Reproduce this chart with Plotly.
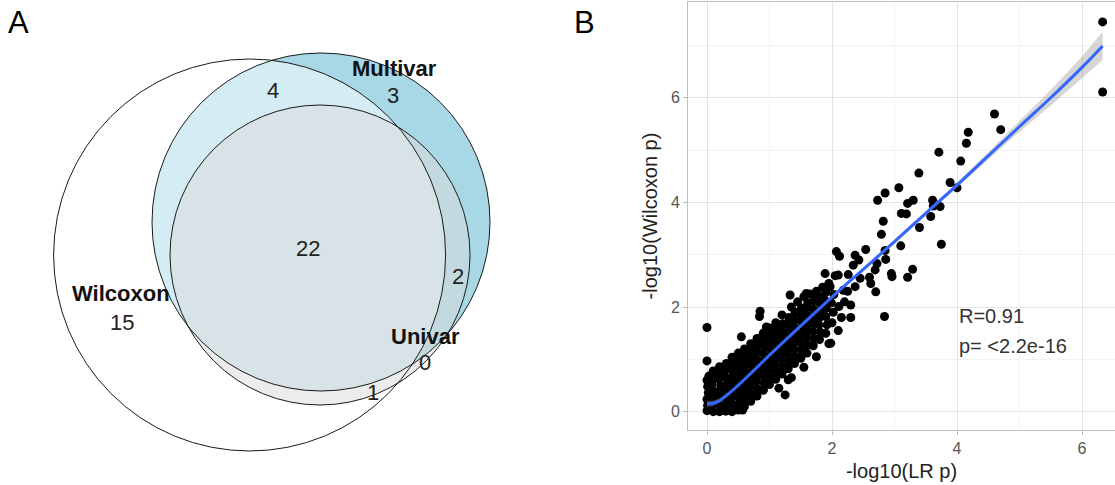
import plotly.graph_objects as go

# ---------------- Panel A: Venn counts ----------------
set_names = ["Wilcoxon", "Multivar", "Univar"]
region_names = ["Wilcoxon only", "Wilcoxon&Multivar", "Multivar only", "All three",
                "Multivar&Univar", "Wilcoxon&Univar", "Univar only"]
region_counts = [15, 4, 3, 22, 2, 1, 0]

# ---------------- Panel B: scatter data ----------------
# dense core
core_x = [0.0, 0.01, 0.0, 0.02, 0.01, 0.0, 0.03,
          0.1, 0.09, 0.11, 0.1, 0.08, 0.12, 0.1,
          0.2, 0.21, 0.19, 0.2, 0.22, 0.19, 0.21, 0.2,
          0.3, 0.31, 0.29, 0.3, 0.32, 0.3, 0.29, 0.31,
          0.4, 0.41, 0.39, 0.4, 0.42, 0.4, 0.39, 0.41, 0.4,
          0.5, 0.51, 0.49, 0.5, 0.52, 0.5, 0.49, 0.51, 0.5,
          0.6, 0.61, 0.59, 0.6, 0.62, 0.6, 0.59, 0.61, 0.6,
          0.7, 0.71, 0.69, 0.7, 0.72, 0.7, 0.69, 0.71, 0.7,
          0.8, 0.81, 0.79, 0.8, 0.82, 0.8, 0.79, 0.81, 0.8,
          0.9, 0.91, 0.89, 0.9, 0.92, 0.9, 0.89, 0.91, 0.9,
          1.0, 1.01, 0.99, 1.0, 1.02, 1.0, 0.99, 1.01, 1.0,
          1.1, 1.11, 1.09, 1.1, 1.12, 1.1, 1.09, 1.11, 1.1,
          1.2, 1.21, 1.19, 1.2, 1.22, 1.2, 1.19, 1.21,
          1.3, 1.31, 1.29, 1.3, 1.32, 1.3, 1.29, 1.31,
          1.4, 1.41, 1.39, 1.4, 1.42, 1.4, 1.39, 1.41,
          1.5, 1.51, 1.49, 1.5, 1.52, 1.5, 1.49, 1.51,
          1.6, 1.61, 1.59, 1.6, 1.62, 1.6, 1.59, 1.61,
          1.7, 1.71, 1.69, 1.7, 1.72, 1.7, 1.71,
          1.8, 1.81, 1.79, 1.8, 1.82, 1.8, 1.79,
          1.9, 1.92, 1.9, 1.91, 1.88, 1.9,
          2.0, 2.02, 1.99, 2.03]
core_y = [0.02, 0.12, 0.24, 0.36, 0.48, 0.6, 0.68,
          0.0, 0.13, 0.26, 0.4, 0.53, 0.66, 0.78,
          0.0, 0.12, 0.25, 0.38, 0.5, 0.63, 0.76, 0.86,
          0.01, 0.14, 0.27, 0.4, 0.53, 0.66, 0.79, 0.92,
          0.0, 0.13, 0.26, 0.4, 0.53, 0.66, 0.8, 0.93, 1.04,
          0.03, 0.16, 0.3, 0.44, 0.58, 0.72, 0.86, 1.0, 1.12,
          0.1, 0.24, 0.38, 0.52, 0.66, 0.8, 0.94, 1.08, 1.2,
          0.2, 0.34, 0.48, 0.62, 0.76, 0.9, 1.04, 1.18, 1.3,
          0.3, 0.44, 0.58, 0.72, 0.86, 1.0, 1.14, 1.28, 1.4,
          0.42, 0.56, 0.7, 0.84, 0.98, 1.12, 1.26, 1.4, 1.5,
          0.52, 0.66, 0.8, 0.94, 1.08, 1.22, 1.36, 1.5, 1.6,
          0.62, 0.76, 0.9, 1.04, 1.18, 1.32, 1.46, 1.6, 1.7,
          0.72, 0.86, 1.0, 1.14, 1.28, 1.42, 1.56, 1.68,
          0.82, 0.96, 1.1, 1.24, 1.38, 1.52, 1.66, 1.8,
          0.92, 1.06, 1.2, 1.34, 1.48, 1.62, 1.76, 1.9,
          1.04, 1.18, 1.32, 1.46, 1.6, 1.74, 1.88, 1.98,
          1.12, 1.28, 1.42, 1.56, 1.7, 1.84, 1.98, 2.08,
          1.26, 1.4, 1.54, 1.68, 1.82, 1.96, 2.12,
          1.38, 1.52, 1.66, 1.8, 1.94, 2.08, 2.2,
          1.5, 1.66, 1.82, 1.98, 2.14, 2.28,
          1.7, 1.9, 2.08, 2.24]

# scattered points
sparse_x = [6.33, 6.33, 4.6, 4.7, 4.18, 4.15, 3.71, 4.06, 3.39, 3.89, 4.0, 3.07, 2.85,
            2.73, 3.3, 3.21, 3.61, 3.62, 3.73, 3.11, 3.19, 3.58, 2.82, 3.4, 2.79, 3.75,
            3.1, 2.07, 2.12, 2.54, 2.37, 2.43, 2.85, 2.86, 2.72, 2.34, 3.29, 2.69, 2.95,
            2.96, 3.21, 1.89, 2.1, 2.26, 2.45, 2.6, 2.62, 2.37, 2.7, 1.97, 2.18, 1.59,
            1.33, 1.75, 2.11, 2.3, 2.3, 2.84, 1.98, 1.3, 1.25, 1.5, 0.85, 0.84, 0.55,
            0.0, 0.0, 0.57, 0.9, 0.74,
            1.2, 1.35, 1.45, 1.65, 1.55, 0.95, 1.75, 1.85, 1.95, 2.05, 1.15, 1.35,
            1.55, 1.75, 1.95, 2.1, 2.15, 2.2, 2.25]
sparse_y = [7.45, 6.11, 5.69, 5.39, 5.34, 5.13, 4.96, 4.79, 4.56, 4.38, 4.28, 4.28, 4.18,
            4.04, 4.04, 3.98, 4.04, 3.93, 3.92, 3.79, 3.78, 3.73, 3.64, 3.52, 3.39, 3.2,
            3.17, 3.06, 2.97, 3.1, 2.99, 2.9, 3.08, 2.91, 2.83, 2.8, 2.72, 2.71, 2.64,
            2.58, 2.57, 2.64, 2.61, 2.62, 2.55, 2.57, 2.45, 2.39, 2.29, 2.39, 2.32, 2.26,
            2.23, 2.17, 2.01, 2.04, 1.8, 1.82, 1.31, 0.61, 0.32, 1.02, 1.92, 1.82, 1.43,
            1.61, 0.97, 0.03, 0.41, 0.64,
            1.85, 2.0, 2.1, 2.25, 2.2, 1.62, 2.3, 2.38, 2.45, 2.6, 0.45, 0.65,
            0.85, 1.05, 1.3, 1.55, 1.8, 2.1, 2.3]

# loess fit and confidence band
fit_x = [0, 0.1, 0.2, 0.3, 0.4, 0.55, 0.75, 1.0, 1.5, 2.0, 2.5, 3.0, 3.5, 4.0, 4.5, 5.0, 5.5, 6.0, 6.33]
fit_y = [0.15, 0.16, 0.21, 0.3, 0.4, 0.56, 0.79, 1.08, 1.64, 2.19, 2.72, 3.25, 3.79, 4.33, 4.89, 5.45, 6.0, 6.58, 6.99]
fit_lo = [0.09, 0.11, 0.17, 0.26, 0.37, 0.53, 0.76, 1.05, 1.61, 2.16, 2.69, 3.21, 3.75, 4.28, 4.82, 5.35, 5.85, 6.37, 6.72]
fit_hi = [0.21, 0.21, 0.25, 0.34, 0.43, 0.59, 0.82, 1.11, 1.67, 2.22, 2.75, 3.29, 3.83, 4.38, 4.96, 5.55, 6.15, 6.79, 7.26]

stat_lines = ["R=0.91", "p= <2.2e-16"]

FONT = "Liberation Sans, Arial, Helvetica, sans-serif"
W, H = 1115, 485

fig = go.Figure()

# ---- Panel B traces ----
fig.add_trace(go.Scatter(x=core_x + sparse_x, y=core_y + sparse_y, mode="markers",
                         marker=dict(color="black", size=9, line=dict(width=0)),
                         xaxis="x2", yaxis="y2", showlegend=False, hoverinfo="x+y"))
fig.add_trace(go.Scatter(x=fit_x, y=fit_lo, mode="lines", line=dict(width=0),
                         xaxis="x2", yaxis="y2", showlegend=False, hoverinfo="skip"))
fig.add_trace(go.Scatter(x=fit_x, y=fit_hi, mode="lines", line=dict(width=0),
                         fill="tonexty", fillcolor="rgba(153,153,153,0.4)",
                         xaxis="x2", yaxis="y2", showlegend=False, hoverinfo="skip"))
fig.add_trace(go.Scatter(x=fit_x, y=fit_y, mode="lines", line=dict(color="#3366FF", width=3),
                         line_shape="spline",
                         xaxis="x2", yaxis="y2", showlegend=False))

# ---- Panel A: circles (pixel geometry) ----
circles = {  # name: (cx, cy, r)
    "Multivar": (321, 222, 169),
    "Wilcoxon": (249.6, 255, 196),
    "Univar": (320, 255, 150),
}
fills = {
    "Multivar": "rgba(168,216,230,1)",
    "Wilcoxon": "rgba(255,255,255,0.5)",
    "Univar": "rgba(218,218,218,0.52)",
}
for name in ["Multivar", "Wilcoxon", "Univar"]:
    cx, cy, r = circles[name]
    fig.add_shape(type="circle", xref="x", yref="y", x0=cx - r, x1=cx + r, y0=cy - r, y1=cy + r,
                  fillcolor=fills[name], line=dict(width=0), layer="above")
for name in ["Multivar", "Wilcoxon", "Univar"]:
    cx, cy, r = circles[name]
    fig.add_shape(type="circle", xref="x", yref="y", x0=cx - r, x1=cx + r, y0=cy - r, y1=cy + r,
                  fillcolor="rgba(0,0,0,0)", line=dict(color="#1a1a1a", width=1), layer="above")

region_pos = [(122, 322), (273, 90), (393, 95), (308, 248), (458, 276), (373, 392), (425, 362)]
for cnt, (px, py) in zip(region_counts, region_pos):
    fig.add_annotation(x=px, y=py, xref="x", yref="y", text=str(cnt), showarrow=False,
                       font=dict(family=FONT, size=22, color="#222"))
set_pos = {"Wilcoxon": (121, 293), "Multivar": (394, 68), "Univar": (425, 336)}
for name in set_names:
    px, py = set_pos[name]
    fig.add_annotation(x=px, y=py, xref="x", yref="y", text="<b>" + name + "</b>", showarrow=False,
                       font=dict(family=FONT, size=22, color="#111"))

# panel letters
fig.add_annotation(x=6, y=3, xref="x", yref="y", text="A", showarrow=False,
                   xanchor="left", yanchor="top", font=dict(family=FONT, size=31, color="black"))
fig.add_annotation(x=572 / W, y=1 - 3 / H, xref="paper", yref="paper", text="B", showarrow=False,
                   xanchor="left", yanchor="top", font=dict(family=FONT, size=31, color="black"))

# stats text
fig.add_annotation(x=4.0, y=1.83, xref="x2", yref="y2", text=stat_lines[0], showarrow=False,
                   xanchor="left", font=dict(family=FONT, size=20, color="#333"))
fig.add_annotation(x=4.0, y=1.25, xref="x2", yref="y2", text=stat_lines[1], showarrow=False,
                   xanchor="left", font=dict(family=FONT, size=20, color="#333"))

axis_common = dict(showgrid=True, gridcolor="#e3e3e3", gridwidth=1, zeroline=False,
                   showline=True, linecolor="#bdbdbd", linewidth=1,
                   ticks="outside", ticklen=4, tickcolor="#bdbdbd",
                   tickfont=dict(family=FONT, size=16, color="#555"),
                   minor=dict(dtick=1, showgrid=True, gridcolor="#f3f3f3", gridwidth=1),
                   automargin=False, dtick=2, tick0=0)

fig.update_layout(
    width=W, height=H, margin=dict(l=0, r=0, t=0, b=0),
    paper_bgcolor="white", plot_bgcolor="white",
    showlegend=False,
    xaxis=dict(domain=[0, 560 / W], range=[0, 560], visible=False, fixedrange=True),
    yaxis=dict(domain=[0, 1], range=[H, 0], visible=False, fixedrange=True),
    xaxis2=dict(axis_common, domain=[688 / W, 1.0], range=[-0.304, 6.528], anchor="y2",
                mirror=True,
                title=dict(text="-log10(LR p)", font=dict(family=FONT, size=20, color="#222"),
                           standoff=7)),
    yaxis2=dict(axis_common, domain=[1 - 430 / H, 1 - 2 / H], range=[-0.35, 7.83], anchor="x2",
                mirror=False,
                title=dict(text="-log10(Wilcoxon p)", font=dict(family=FONT, size=20, color="#222"),
                           standoff=7)),
)

fig.write_html("out.html", config={"displayModeBar": False},
               post_script="document.body.style.margin='0px';")
